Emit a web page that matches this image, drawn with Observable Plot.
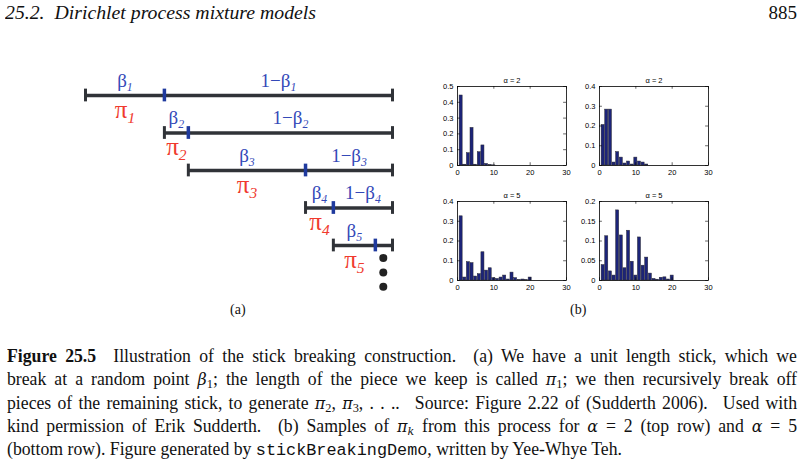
<!DOCTYPE html>
<html><head><meta charset="utf-8">
<script src="https://cdn.jsdelivr.net/npm/d3@7"></script>
<script src="https://cdn.jsdelivr.net/npm/@observablehq/plot@0.6"></script>
<style>
html,body{margin:0;padding:0;background:#fff;}
#page{position:relative;width:806px;height:465px;overflow:hidden;font-family:"Liberation Serif","DejaVu Serif",serif;color:#111;}
.abs{position:absolute;}
#hdr{left:5px;top:1px;font-style:italic;font-size:19px;line-height:24px;white-space:nowrap;transform-origin:0 0;}
#pno{right:9px;top:1px;font-size:19px;line-height:24px;}
#cap{left:7px;top:345px;font-size:18px;line-height:23.3px;transform-origin:0 0;}
#cap .ln{white-space:nowrap;}
#cap .j{text-align:justify;text-align-last:justify;}
#cap sub{font-size:0.7em;vertical-align:-0.25em;line-height:0;}
#cap i{font-family:"DejaVu Serif","Liberation Serif",serif;font-size:0.9em;}
#cap code{font-family:"Liberation Mono","DejaVu Sans Mono",monospace;font-size:0.95em;}
.plab{font-size:14px;}
</style></head><body><div id="page">
<div id="hdr" class="abs">25.2.&nbsp; Dirichlet process mixture models</div>
<div id="pno" class="abs">885</div>
<div class="abs plab" style="left:230px;top:302px;">(a)</div>
<div class="abs plab" style="left:570px;top:302px;">(b)</div>
<div id="cap" class="abs">
<div class="ln j"><b>Figure 25.5</b>&ensp; Illustration of the stick breaking construction.&ensp; (a) We have a unit length stick, which we</div>
<div class="ln j">break at a random point <i>β</i><sub>1</sub>; the length of the piece we keep is called <i>π</i><sub>1</sub>; we then recursively break off</div>
<div class="ln j">pieces of the remaining stick, to generate <i>π</i><sub>2</sub>, <i>π</i><sub>3</sub>, . . ..&ensp; Source: Figure 2.22 of (Sudderth 2006).&ensp; Used with</div>
<div class="ln j">kind permission of Erik Sudderth.&ensp; (b) Samples of <i>π</i><sub><i>k</i></sub> from this process for <i>α</i> = 2 (top row) and <i>α</i> = 5</div>
<div class="ln" id="last">(bottom row). Figure generated by <code>stickBreakingDemo</code>, written by Yee-Whye Teh.</div>
</div>
</div>
<script>
// ---------- data ----------
// (a) stick breaking: fraction of the remaining stick kept at each step
const betas = [0.257, 0.105, 0.574, 0.32, 0.71];
const stickIndex = [1, 2, 3, 4, 5];
const betaLabels = ["β|1", "β|2", "β|3", "β|4", "β|5"];
const restLabels = ["1−β|1", "1−β|2", "1−β|3", "1−β|4", ""];
const piLabels = ["π|1", "π|2", "π|3", "π|4", "π|5"];
const moreDotsY = [5.33, 5.72, 6.1];
const moreDotsX = 0.97;

// (b) sampled weights pi_k
const xTicks = [0, 10, 20, 30];
const alpha2a = [0.443, 0.005, 0.078, 0.238, 0.005, 0.084, 0.127, 0.01, 0.002, 0.001];
const alpha2b = [0.205, 0.283, 0.283, 0.015, 0.068, 0.04, 0.01, 0.02, 0.005, 0.04, 0.02, 0.015, 0.005];
const alpha5a = [0.325, 0.015, 0.093, 0.088, 0.02, 0.032, 0.143, 0.05, 0.062, 0.012, 0.008, 0.015, 0.025, 0.005, 0.04, 0.012, 0.002, 0.005, 0.002, 0.015];
const alpha5b = [0.039, 0.112, 0.023, 0.0125, 0.1775, 0.114, 0.031, 0.126, 0.0475, 0.0125, 0.109, 0.0375, 0.058, 0.0175, 0.004, 0.002, 0.007, 0.008, 0.0025, 0.0125];
const yTicks2a = [0, 0.1, 0.2, 0.3, 0.4, 0.5];
const yTicks2b = [0, 0.1, 0.2, 0.3, 0.4];
const yTicks5a = [0, 0.1, 0.2, 0.3, 0.4];
const yTicks5b = [0, 0.05, 0.1, 0.15, 0.2];
const titles = ["α = 2", "α = 2", "α = 5", "α = 5"];

const page = document.getElementById("page");
function place(el, left, top) {
  const d = document.createElement("div");
  d.className = "abs"; d.style.left = left + "px"; d.style.top = top + "px";
  d.appendChild(el); page.appendChild(d);
}

// ---------- (a) stick diagram ----------
let s = 0;
const sticks = betas.map((b, i) => {
  const start = s, brk = s + b * (1 - s);
  s = brk;
  return {i: stickIndex[i], start, brk, beta: betaLabels[i], rest: restLabels[i], pi: piLabels[i]};
});
const capH = 0.17;
const stickCol = "#303338", blue = "#1f3a9e", labBlue = "#3449b8", red = "#f03a2e";
const stickPlot = Plot.plot({
  width: 420, height: 250, marginLeft: 85, marginRight: 28, marginTop: 45, marginBottom: 17.5,
  x: {domain: [0, 1], axis: null},
  y: {domain: [1, 6], reverse: true, axis: null},
  style: {background: "transparent", fontFamily: "Liberation Serif, DejaVu Serif, serif"},
  marks: [
    Plot.ruleY(sticks, {y: "i", x1: "start", x2: () => 1, stroke: stickCol, strokeWidth: 3.5}),
    Plot.ruleX(sticks, {x: "start", y1: d => d.i - capH, y2: d => d.i + capH, stroke: stickCol, strokeWidth: 3}),
    Plot.ruleX(sticks, {x: () => 1, y1: d => d.i - capH, y2: d => d.i + capH, stroke: stickCol, strokeWidth: 3}),
    Plot.ruleX(sticks, {x: "brk", y1: d => d.i - capH, y2: d => d.i + capH, stroke: blue, strokeWidth: 3.5}),
    Plot.text(sticks, {x: d => (d.start + d.brk) / 2, y: "i", text: "beta", dy: -15, fill: labBlue, fontSize: 19}),
    Plot.text(sticks, {x: d => (d.brk + 1) / 2, y: "i", text: "rest", dy: -15, fill: labBlue, fontSize: 19}),
    Plot.text(sticks, {x: d => (d.start + d.brk) / 2, y: "i", text: "pi", dy: 14, fill: red, fontSize: 25}),
    Plot.dot(moreDotsY, {x: () => moreDotsX, y: d => d, r: 4, fill: "#222", stroke: "none"})
  ]
});
// turn "name|k" into name with an italic subscript k
stickPlot.querySelectorAll("text").forEach(t => {
  const str = t.textContent;
  if (!str.includes("|")) return;
  const [main, sub] = str.split("|");
  t.textContent = "";
  const a = document.createElementNS("http://www.w3.org/2000/svg", "tspan");
  a.textContent = main;
  const b = document.createElementNS("http://www.w3.org/2000/svg", "tspan");
  b.textContent = sub;
  b.setAttribute("font-size", "0.62em");
  b.setAttribute("font-style", "italic");
  b.setAttribute("dy", "0.35em");
  t.appendChild(a); t.appendChild(b);
});
place(stickPlot, 0, 50);

// ---------- (b) histograms ----------
function hist(vals, ymax, yt, title) {
  const data = vals.map((v, i) => ({k: i + 1, v}));
  const tx = 0.8, ty = ymax * 0.035;
  return Plot.plot({
    width: 149, height: 117, marginLeft: 30, marginRight: 10, marginTop: 20, marginBottom: 18,
    style: {background: "transparent", fontFamily: "Liberation Sans, Arial, sans-serif", fontSize: "7.5px", color: "#000"},
    x: {domain: [0, 30], ticks: xTicks, tickSize: 0, tickPadding: 4, tickFormat: d => String(d), label: null},
    y: {domain: [0, ymax], ticks: yt, tickSize: 0, tickPadding: 4, tickFormat: d => String(d), label: null},
    marks: [
      Plot.rectY(data, {x1: d => d.k - 0.42, x2: d => d.k + 0.42, y1: () => 0, y2: "v", fill: "#1c2479", stroke: "#2a2a33", strokeWidth: 0.5}),
      Plot.ruleX(xTicks, {x: d => d, y1: () => 0, y2: () => ty, stroke: "#000", strokeWidth: 0.6}),
      Plot.ruleX(xTicks, {x: d => d, y1: () => ymax, y2: () => ymax - ty, stroke: "#000", strokeWidth: 0.6}),
      Plot.ruleY(yt, {y: d => d, x1: () => 0, x2: () => tx, stroke: "#000", strokeWidth: 0.6}),
      Plot.ruleY(yt, {y: d => d, x1: () => 30 - tx, x2: () => 30, stroke: "#000", strokeWidth: 0.6}),
      Plot.frame({stroke: "#000", strokeWidth: 0.8}),
      Plot.text([title], {frameAnchor: "top", dy: -9, fontSize: 7.5})
    ]
  });
}
place(hist(alpha2a, 0.5, yTicks2a, titles[0]), 427, 66);
place(hist(alpha2b, 0.4, yTicks2b, titles[1]), 569, 66);
place(hist(alpha5a, 0.4, yTicks5a, titles[2]), 427, 181);
place(hist(alpha5b, 0.2, yTicks5b, titles[3]), 569, 181);

// ---------- text fitting ----------
(function fit() {
  const hdr = document.getElementById("hdr");
  const hw = hdr.getBoundingClientRect().width;
  hdr.style.transform = `scaleX(${311 / hw})`;
  const cap = document.getElementById("cap");
  const last = document.getElementById("last");
  const r = document.createRange(); r.selectNodeContents(last);
  const lw = r.getBoundingClientRect().width;
  const f = 615 / lw;
  cap.style.width = (790 / f) + "px";
  cap.style.transform = `scaleX(${f})`;
})();
</script>
</body></html>
